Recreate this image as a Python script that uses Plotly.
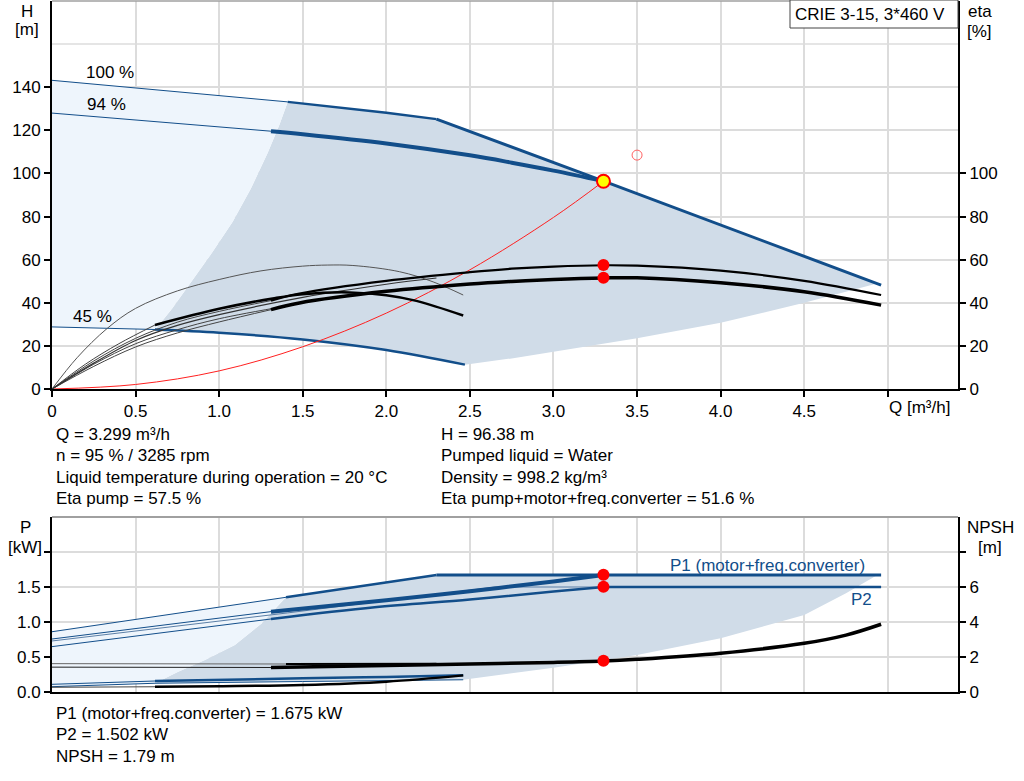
import plotly.graph_objects as go

# ---------------- data ----------------
# top panel: head curves, Q in m3/h, H in m
q100_thin = [0, 0.5, 1.0, 1.41]
h100_thin = [143.2, 139.7, 136.3, 133.2]
q100 = [1.41, 2.0, 2.3]
h100 = [133.2, 128.2, 125.2]
q_lim = [2.3, 3.3, 4.96]
h_lim = [125.2, 96.4, 48.2]
q94_thin = [0, 0.5, 1.0, 1.31]
h94_thin = [128.0, 124.8, 121.9, 119.6]
q94 = [1.31, 1.5, 2.0, 2.5, 2.75, 3.0, 3.3]
h94 = [119.6, 118.2, 113.9, 108.4, 105.0, 101.3, 96.4]
q45_thin = [0, 0.3, 0.616]
h45_thin = [28.8, 28.3, 27.6]
q45 = [0.616, 1.0, 1.5, 2.0, 2.47]
h45 = [27.6, 26.1, 23.0, 18.1, 11.3]

# operating range borders (top)
q_min = [0.616, 0.72, 0.84, 0.96, 1.08, 1.19, 1.29, 1.36, 1.41]
h_min = [27.4, 37.5, 50.5, 63.5, 77.5, 93.0, 109.5, 122.5, 133.2]
q_low = [2.47, 2.75, 3.0, 3.5, 4.0, 4.5, 4.93]
h_low = [11.3, 14.2, 17.3, 23.5, 30.7, 40.0, 48.8]

# system curve
sys_q = [0, 0.5, 1.0, 1.5, 2.0, 2.5, 3.0, 3.3]
sys_h = [0, 2.1, 8.4, 19.6, 35.2, 55.3, 79.6, 96.4]

# efficiency curves, eta in %
t1_q = [0, 0.15, 0.33, 0.5, 0.75, 1.0, 1.25, 1.5, 1.65, 1.8, 2.08, 2.28, 2.46]
t1_eta = [0, 14.5, 28.1, 37.4, 45.5, 50.8, 54.8, 57.0, 57.5, 57.3, 54.4, 49.7, 43.6]
b_thin_q = [0, 0.2, 0.4, 0.616]
b_thin_eta = [0, 11.5, 21.0, 29.7]
b_q = [0.616, 1.0, 1.32, 1.5, 1.78, 2.0, 2.18, 2.46]
b_eta = [29.7, 37.2, 42.0, 44.0, 44.8, 43.5, 40.9, 34.1]
u_thin_q = [0, 0.25, 0.5, 0.75, 1.0, 1.31]
u_thin_eta = [0, 13.0, 23.5, 31.0, 36.0, 41.0]
u_q = [1.31, 1.48, 2.0, 2.5, 2.75, 3.0, 3.3, 3.5, 4.0, 4.5, 4.96]
u_eta = [41.0, 44.3, 50.2, 54.2, 55.8, 56.8, 57.4, 57.2, 54.9, 50.2, 43.6]
l_thin_q = [0, 0.25, 0.5, 0.75, 1.0, 1.31]
l_thin_eta = [0, 10.5, 19.5, 26.0, 31.1, 36.8]
l_q = [1.31, 1.48, 2.0, 2.5, 2.75, 3.0, 3.3, 3.5, 4.0, 4.5, 4.96]
l_eta = [36.8, 39.9, 45.3, 48.7, 49.9, 50.8, 51.5, 51.6, 49.3, 45.1, 38.9]
u100_q = [0, 0.25, 0.5, 0.75, 1.0, 1.5, 2.0, 2.3]
u100_eta = [0, 12.0, 22.5, 29.5, 34.5, 42.5, 48.6, 51.5]
l100_q = [0, 0.25, 0.5, 0.75, 1.0, 1.41]
l100_eta = [0, 11.5, 21.0, 27.5, 32.6, 38.6]

# duty point
duty_q = 3.299
duty_h = 96.38
eta_pump = 57.5
eta_total = 51.6
p1_duty = 1.675
p2_duty = 1.502
npsh_duty = 1.79
req_q = 3.5
req_h = 108.5

# bottom panel: power in kW
p1_100_thin_q = [0, 1.40]
p1_100_thin = [0.861, 1.353]
p1_100_q = [1.40, 2.30]
p1_100 = [1.353, 1.67]
p1_lim_q = [2.30, 4.96]
p1_lim = [1.67, 1.67]
p1_95_thin_q = [0, 1.31]
p1_95_thin = [0.757, 1.148]
p1_95_q = [1.31, 2.0, 2.5, 3.0, 3.3]
p1_95 = [1.148, 1.31, 1.44, 1.58, 1.67]
p2_100_q = [0, 1.41, 2.65, 3.3]
p2_100 = [0.729, 1.13, 1.50, 1.50]
p2_95_thin_q = [0, 1.31]
p2_95_thin = [0.648, 1.043]
p2_95_q = [1.31, 1.93, 2.5, 3.0, 3.3]
p2_95 = [1.043, 1.21, 1.32, 1.435, 1.50]
p2_lim_q = [3.3, 4.96]
p2_lim = [1.50, 1.50]
p1_45_thin_q = [0, 0.616]
p1_45_thin = [0.11, 0.157]
p1_45_q = [0.616, 1.5, 2.0, 2.46]
p1_45 = [0.157, 0.195, 0.215, 0.238]
p2_45_q = [0, 0.616, 1.5, 2.46]
p2_45 = [0.076, 0.125, 0.15, 0.175]

pmin_q = [0.616, 0.755, 0.915, 1.094, 1.254, 1.354, 1.40]
pmin_p = [0.125, 0.29, 0.457, 0.671, 0.98, 1.243, 1.353]
plow_q = [2.46, 2.75, 3.0, 3.5, 4.0, 4.5, 4.75, 4.93]
plow_p = [0.175, 0.267, 0.345, 0.529, 0.767, 1.10, 1.41, 1.66]

# NPSH in m
n95_thin_q = [0, 1.31]
n95_thin = [1.42, 1.40]
n95_q = [1.31, 2.0, 2.5, 3.0, 3.3, 3.5, 4.0, 4.5, 4.75, 4.96]
n95 = [1.40, 1.52, 1.60, 1.69, 1.77, 1.87, 2.22, 2.78, 3.25, 3.87]
n100_thin_q = [0, 1.40]
n100_thin = [1.62, 1.60]
n100_q = [1.40, 2.3]
n100 = [1.60, 1.62]
n45_thin_q = [0, 0.616]
n45_thin = [0.27, 0.30]
n45_q = [0.616, 1.0, 1.5, 2.0, 2.46]
n45 = [0.30, 0.33, 0.40, 0.59, 0.95]

# ---------------- styling ----------------
BLUE = "#124e8a"
GREY_FILL = "#d0dce8"
LIGHT_FILL = "#eef5fc"
GRID = "#dcdcdc"
FONT = "Liberation Sans, Arial, sans-serif"
FS = 17

fig = go.Figure()


def line(x, y, ax="x", ay="y", color=BLUE, width=1, shape="linear"):
    fig.add_trace(go.Scatter(x=x, y=y, xaxis=ax, yaxis=ay, mode="lines",
                             line=dict(color=color, width=width, shape=shape),
                             hoverinfo="skip"))


def area(x, y, ax, ay, color):
    fig.add_trace(go.Scatter(x=x, y=y, xaxis=ax, yaxis=ay, mode="lines",
                             fill="toself", fillcolor=color,
                             line=dict(width=0), hoverinfo="skip"))


# ---- top panel fills
area(q_min + q100[1:] + q_lim[1:] + q_low[::-1] + q45[::-1],
     h_min + h100[1:] + h_lim[1:] + h_low[::-1] + h45[::-1], "x", "y", GREY_FILL)
area(q100_thin + q_min[::-1][1:] + q45_thin[::-1],
     h100_thin + h_min[::-1][1:] + h45_thin[::-1], "x", "y", LIGHT_FILL)

# ---- top panel head curves
line(q100_thin, h100_thin, width=1)
line(q94_thin, h94_thin, width=1)
line(q45_thin, h45_thin, width=1)
line(q100, h100, width=2.5)
line(q_lim, h_lim, width=3)
line(q94, h94, width=4, shape="spline")
line(q45, h45, width=2.5, shape="spline")
line(sys_q, sys_h, color="#ff2020", width=1, shape="spline")

# ---- efficiency curves (right axis)
line(t1_q, t1_eta, ay="y2", color="#555555", width=1, shape="spline")
for qq, ee in [(b_thin_q, b_thin_eta), (u_thin_q, u_thin_eta), (l_thin_q, l_thin_eta),
               (l100_q, l100_eta)]:
    line(qq, ee, ay="y2", color="#444444", width=1, shape="spline")
line(u100_q, u100_eta, ay="y2", color="#333333", width=1.2, shape="spline")
line(b_q, b_eta, ay="y2", color="black", width=2.5, shape="spline")
line(u_q, u_eta, ay="y2", color="black", width=2.2, shape="spline")
line(l_q, l_eta, ay="y2", color="black", width=3.5, shape="spline")

# ---- top markers
fig.add_trace(go.Scatter(x=[duty_q, duty_q], y=[eta_pump, eta_total], xaxis="x", yaxis="y2",
                         mode="markers", marker=dict(color="#ff0000", size=12),
                         hoverinfo="skip"))
fig.add_trace(go.Scatter(x=[req_q], y=[req_h], xaxis="x", yaxis="y", mode="markers",
                         marker=dict(color="rgba(0,0,0,0)", size=10,
                                     line=dict(color="#ff6060", width=1)),
                         hoverinfo="skip"))
fig.add_trace(go.Scatter(x=[duty_q], y=[duty_h], xaxis="x", yaxis="y", mode="markers",
                         marker=dict(color="#ffff00", size=13,
                                     line=dict(color="#ff0000", width=2)),
                         hoverinfo="skip"))

# ---- bottom panel fills
area(pmin_q + p1_100_q[1:] + p1_lim_q[1:] + plow_q[::-1] + p2_45_q[1:][::-1],
     pmin_p + p1_100[1:] + p1_lim[1:] + plow_p[::-1] + p2_45[1:][::-1], "x2", "y3", GREY_FILL)
area(p1_100_thin_q + pmin_q[::-1][1:] + p2_45_q[:2][::-1],
     p1_100_thin + pmin_p[::-1][1:] + p2_45[:2][::-1], "x2", "y3", LIGHT_FILL)

# ---- power curves
for qq, pp in [(p1_100_thin_q, p1_100_thin), (p1_95_thin_q, p1_95_thin),
               (p2_95_thin_q, p2_95_thin), (p1_45_thin_q, p1_45_thin), (p2_45_q, p2_45)]:
    line(qq, pp, ax="x2", ay="y3", width=1)
line(p2_100_q, p2_100, ax="x2", ay="y3", color="#5a7ea6", width=1)
line(p1_100_q, p1_100, ax="x2", ay="y3", width=2.5)
line(p1_lim_q, p1_lim, ax="x2", ay="y3", width=3)
line(p1_95_q, p1_95, ax="x2", ay="y3", width=4, shape="spline")
line(p2_95_q, p2_95, ax="x2", ay="y3", width=2.5, shape="spline")
line(p2_lim_q, p2_lim, ax="x2", ay="y3", width=2.5)
line(p1_45_q, p1_45, ax="x2", ay="y3", width=2.5, shape="spline")

# ---- NPSH curves (right axis)
line(n100_thin_q, n100_thin, ax="x2", ay="y4", color="#666666", width=1)
line(n95_thin_q, n95_thin, ax="x2", ay="y4", color="#222222", width=1)
line(n45_thin_q, n45_thin, ax="x2", ay="y4", color="#444444", width=1)
line(n100_q, n100, ax="x2", ay="y4", color="black", width=2)
line(n95_q, n95, ax="x2", ay="y4", color="black", width=3.5, shape="spline")
line(n45_q, n45, ax="x2", ay="y4", color="black", width=2.5, shape="spline")

fig.add_trace(go.Scatter(x=[duty_q, duty_q], y=[p1_duty, p2_duty], xaxis="x2", yaxis="y3",
                         mode="markers", marker=dict(color="#ff0000", size=12),
                         hoverinfo="skip"))
fig.add_trace(go.Scatter(x=[duty_q], y=[npsh_duty], xaxis="x2", yaxis="y4",
                         mode="markers", marker=dict(color="#ff0000", size=12),
                         hoverinfo="skip"))

# ---------------- axes ----------------
q_ticks = [0, 0.5, 1.0, 1.5, 2.0, 2.5, 3.0, 3.5, 4.0, 4.5, 5.0]
q_text = ["0", "0.5", "1.0", "1.5", "2.0", "2.5", "3.0", "3.5", "4.0", "4.5", ""]
tickfont = dict(family=FONT, size=FS, color="black")
common = dict(showline=True, linecolor="black", linewidth=2, zeroline=False,
              tickcolor="black", tickwidth=1.5, ticklen=6, tickfont=tickfont)

top_dom = [(692 - 389) / 691, 1.0]
bot_dom = [0.0, (692 - 517) / 691]

fig.update_layout(
    xaxis=dict(domain=[0, 1], anchor="y", range=[0, 5.42], tickvals=q_ticks, ticktext=q_text,
               ticks="outside", showgrid=True, gridcolor=GRID, gridwidth=1.5, **common),
    yaxis=dict(domain=top_dom, anchor="x", range=[0, 180], tickvals=list(range(0, 141, 20)),
               ticks="outside", showgrid=True, gridcolor=GRID, gridwidth=1.5, **common),
    yaxis2=dict(overlaying="y", anchor="x", side="right", range=[0, 180],
                tickvals=list(range(0, 101, 20)), ticks="outside", showgrid=False, **common),
    xaxis2=dict(domain=[0, 1], anchor="y3", range=[0, 5.42], tickvals=q_ticks,
                showticklabels=False, ticks="", showgrid=True, gridcolor=GRID, gridwidth=1.5,
                **common),
    yaxis3=dict(domain=bot_dom, anchor="x2", range=[0, 2.5], tickvals=[0, 0.5, 1.0, 1.5, 2.0],
                ticktext=["0.0", "0.5", "1.0", "1.5", ""], ticks="outside", showgrid=True,
                gridcolor=GRID, gridwidth=1.5, **common),
    yaxis4=dict(overlaying="y3", anchor="x2", side="right", range=[0, 10],
                tickvals=[0, 2, 4, 6, 8], ticktext=["0", "2", "4", "6", ""], ticks="outside",
                showgrid=False, **common),
    width=1024, height=781,
    margin=dict(l=52, r=66, t=1, b=89),
    plot_bgcolor="white", paper_bgcolor="white",
    showlegend=False,
    font=dict(family=FONT, size=FS, color="black"),
)

# extra grid line at 160 m and grey top borders
fig.add_shape(type="line", xref="x domain", yref="y", x0=0, x1=1, y0=160, y1=160,
              line=dict(color=GRID, width=1.5), layer="below")
fig.add_shape(type="line", xref="x domain", yref="y domain", x0=0, x1=1, y0=1, y1=1,
              line=dict(color="#a0a0a0", width=1.5))
fig.add_shape(type="line", xref="x2 domain", yref="y3 domain", x0=0, x1=1, y0=1, y1=1,
              line=dict(color="#a0a0a0", width=2))


# ---------------- text ----------------
def px(x):
    return (x - 52) / 906


def py(y):
    return (692 - y) / 691


def text(s, x, y, anchor="left", color="black"):
    fig.add_annotation(text=s, x=px(x), y=py(y), xref="paper", yref="paper",
                       xanchor=anchor, yanchor="middle", showarrow=False,
                       font=dict(family=FONT, size=FS, color=color))


# title box
fig.add_shape(type="rect", xref="paper", yref="paper", x0=px(790), x1=px(958),
              y0=py(28), y1=py(0), line=dict(color="#444444", width=1), fillcolor="white")
text("CRIE 3-15, 3*460 V", 870, 14, "center")

# axis titles
text("H", 27, 11, "center")
text("[m]", 27, 30, "center")
text("eta", 980, 11, "center")
text("[%]", 980, 31, "center")
text("Q [m³/h]", 919, 407, "center")
text("P", 25, 527, "center")
text("[kW]", 25, 547, "center")
text("NPSH", 990, 527, "center")
text("[m]", 990, 547, "center")

# curve labels
text("100 %", 110, 73, "center")
text("94 %", 106, 105, "center")
text("45 %", 92, 316, "center")
text("P1 (motor+freq.converter)", 767, 565, "center", BLUE)
text("P2", 861, 599, "center", BLUE)

# duty point info
left_info = ["Q = 3.299 m³/h", "n = 95 % / 3285 rpm",
             "Liquid temperature during operation = 20 °C", "Eta pump = 57.5 %"]
right_info = ["H = 96.38 m", "Pumped liquid = Water", "Density = 998.2 kg/m³",
              "Eta pump+motor+freq.converter = 51.6 %"]
rows_y = [434, 455.5, 477, 498.5]
for s, y in zip(left_info, rows_y):
    text(s, 54, y)
for s, y in zip(right_info, rows_y):
    text(s, 439, y)

bottom_info = ["P1 (motor+freq.converter) = 1.675 kW", "P2 = 1.502 kW", "NPSH = 1.79 m"]
for s, y in zip(bottom_info, [713, 734.5, 756]):
    text(s, 54, y)

# the page's default body margin would shift the whole figure by 8 px
fig.write_html("out.html", config={"displayModeBar": False},
               post_script="document.body.style.margin = '0px';")
